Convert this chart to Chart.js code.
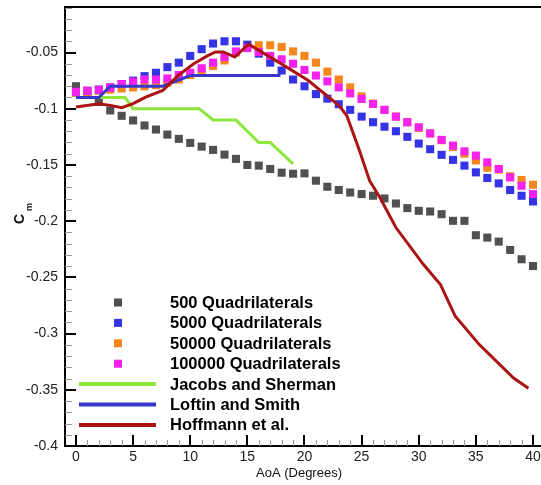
<!DOCTYPE html>
<html>
<head>
<meta charset="utf-8">
<script src="https://cdn.jsdelivr.net/npm/chart.js@4.4.1/dist/chart.umd.min.js"></script>
<style>
  html, body { margin: 0; padding: 0; background: #fff; }
</style>
</head>
<body>
<canvas id="cmChart" width="541" height="485"></canvas>
<script>
// Cm vs angle of attack - mesh study against experiments

const aoa = [0, 1, 2, 3, 4, 5, 6, 7, 8, 9, 10, 11, 12, 13, 14, 15, 16, 17, 18, 19, 20,
             21, 22, 23, 24, 25, 26, 27, 28, 29, 30, 31, 32, 33, 34, 35, 36, 37, 38, 39, 40];

const cm500 = [-0.080, -0.087, -0.094, -0.1015, -0.1063, -0.1104, -0.1149, -0.1185, -0.123, -0.1268,
               -0.1304, -0.1337, -0.1366, -0.1408, -0.1446, -0.150, -0.1506, -0.1536, -0.1569, -0.1578,
               -0.1575, -0.164, -0.1694, -0.1723, -0.1745, -0.1759, -0.1774, -0.1798, -0.1843, -0.1884,
               -0.1908, -0.1914, -0.1938, -0.1997, -0.1997, -0.2125, -0.2146, -0.2182, -0.2256, -0.2339, -0.2399];

const cm5000 = [-0.085, -0.084, -0.083, -0.081, -0.078, -0.075, -0.071, -0.068, -0.063, -0.059,
                -0.053, -0.047, -0.042, -0.040, -0.040, -0.043, -0.051, -0.059, -0.066, -0.074,
                -0.080, -0.087, -0.091, -0.096, -0.101, -0.107, -0.112, -0.116, -0.120, -0.125,
                -0.131, -0.136, -0.141, -0.1455, -0.1506, -0.1566, -0.1616, -0.1664, -0.1723, -0.1774, -0.1825];

const cm50000 = [-0.086, -0.085, -0.084, -0.083, -0.082, -0.081, -0.080, -0.079, -0.077, -0.074,
                 -0.070, -0.066, -0.062, -0.057, -0.050, -0.0435, -0.0435, -0.0435, -0.045, -0.049,
                 -0.053, -0.059, -0.067, -0.074, -0.081, -0.089, -0.0955, -0.101, -0.107, -0.112,
                 -0.117, -0.122, -0.128, -0.134, -0.140, -0.146, -0.1525, -0.154, -0.160, -0.1634, -0.1676];

const cm100000 = [-0.085, -0.084, -0.083, -0.081, -0.078, -0.076, -0.074, -0.074, -0.073, -0.070,
                  -0.068, -0.064, -0.059, -0.054, -0.049, -0.046, -0.0495, -0.053, -0.056, -0.060,
                  -0.0655, -0.0705, -0.0756, -0.081, -0.0863, -0.0913, -0.0957, -0.101, -0.107, -0.112,
                  -0.1165, -0.1219, -0.1277, -0.1328, -0.1379, -0.1417, -0.1477, -0.1536, -0.1611, -0.1685, -0.1759];

const jacobsAoa = [2, 4.3, 5, 10.8, 12, 14, 16, 17, 19];
const jacobsCm  = [-0.09, -0.09, -0.1, -0.1, -0.11, -0.11, -0.13, -0.13, -0.149];

const loftinAoa = [0, 2, 3, 7.6, 10, 17.9];
const loftinCm  = [-0.09, -0.09, -0.08, -0.08, -0.0705, -0.0705];

const hoffAoa = [0, 2, 3, 4, 5, 6.1, 7.6, 9, 10.3, 11.5, 12.2, 12.9, 13.9, 15.1, 17.8, 20.3, 23,
                 23.7, 24.8, 25.7, 26.6, 28, 30.4, 31.9, 32.3, 33.2, 35.3, 38.3, 39.6];
const hoffCm  = [-0.0985, -0.0955, -0.097, -0.099, -0.0955, -0.0896, -0.0837, -0.070, -0.060, -0.053,
                 -0.0495, -0.0495, -0.054, -0.0426, -0.059, -0.0747, -0.097,
                 -0.106, -0.137, -0.164, -0.179, -0.2057, -0.2384, -0.2563, -0.2652, -0.2846, -0.3098, -0.3396, -0.3486];

const xTicks = [0, 5, 10, 15, 20, 25, 30, 35, 40];
const yTicks = [-0.4, -0.35, -0.3, -0.25, -0.2, -0.15, -0.1, -0.05];
const yTickLabels = ['-0.4', '-0.35', '-0.3', '-0.25', '-0.2', '-0.15', '-0.1', '-0.05'];

const FONT = '"Liberation Sans", Arial, Helvetica, sans-serif';

function pairs(xs, ys) {
    return xs.map((x, i) => ({ x: x, y: ys[i] }));
}

function markerSet(label, ys, color, order) {
    return {
        label: label,
        data: pairs(aoa, ys),
        showLine: false,
        pointStyle: 'rect',
        pointRadius: 5.7,
        pointBorderWidth: 0,
        backgroundColor: color,
        borderColor: color,
        order: order
    };
}

function lineSet(label, xs, ys, color, order) {
    return {
        label: label,
        data: pairs(xs, ys),
        showLine: true,
        pointRadius: 0,
        borderWidth: 3,
        borderColor: color,
        backgroundColor: color,
        tension: 0,
        order: order
    };
}

// no extra padding for tick labels - plot box is fixed
function noPad(s) {
    s.paddingTop = 0;
    s.paddingBottom = 0;
    s.paddingLeft = 0;
    s.paddingRight = 0;
}

// axis frame, inward ticks, legend, titles
const decorations = {
    id: 'decorations',
    beforeDatasetsDraw(chart) {
        const { ctx, chartArea: a, scales: { x, y } } = chart;
        ctx.save();
        // minor ticks
        ctx.strokeStyle = '#9a9a9a';
        ctx.lineWidth = 1;
        ctx.beginPath();
        for (let v = 0; v <= 40; v++) {
            if (v % 5 === 0) continue;
            const px = Math.round(x.getPixelForValue(v)) + 0.5;
            ctx.moveTo(px, a.bottom);
            ctx.lineTo(px, a.bottom - 6);
        }
        for (let k = 40; k >= 1; k--) {
            if (k % 5 === 0) continue;
            const py = Math.round(y.getPixelForValue(-k / 100)) + 0.5;
            ctx.moveTo(a.left, py);
            ctx.lineTo(a.left + 7, py);
        }
        ctx.stroke();
        // major ticks
        ctx.strokeStyle = '#000';
        ctx.lineWidth = 2;
        ctx.beginPath();
        xTicks.forEach(v => {
            const px = Math.round(x.getPixelForValue(v));
            ctx.moveTo(px, a.bottom);
            ctx.lineTo(px, a.bottom - 11);
        });
        yTicks.forEach(v => {
            const py = Math.round(y.getPixelForValue(v));
            ctx.moveTo(a.left, py);
            ctx.lineTo(a.left + 11, py);
        });
        // top border
        ctx.moveTo(a.left - 1, a.top);
        ctx.lineTo(a.right, a.top);
        ctx.stroke();
        ctx.restore();
    },
    afterDraw(chart) {
        const { ctx } = chart;
        ctx.save();
        // legend
        const rowTop = 302.5, rowGap = 20.4;
        ctx.textBaseline = 'middle';
        ctx.textAlign = 'left';
        ctx.font = 'bold 16.5px ' + FONT;
        chart.data.datasets.forEach((ds, i) => {
            const yy = rowTop + i * rowGap;
            if (ds.showLine) {
                ctx.strokeStyle = ds.borderColor;
                ctx.lineWidth = 4;
                ctx.beginPath();
                ctx.moveTo(79, yy);
                ctx.lineTo(156, yy);
                ctx.stroke();
            } else {
                ctx.fillStyle = ds.backgroundColor;
                ctx.fillRect(114, yy - 4, 8, 8);
            }
            ctx.fillStyle = '#000';
            ctx.fillText(ds.label, 170, yy + 1);
        });
        // x title
        ctx.font = '13px ' + FONT;
        ctx.fillStyle = '#111';
        ctx.textAlign = 'center';
        ctx.fillText('AoA (Degrees)', 299, 473);
        // y title C_m
        ctx.translate(20, 219);
        ctx.rotate(-Math.PI / 2);
        ctx.font = 'bold 14px ' + FONT;
        ctx.fillText('C', 0, 0);
        ctx.font = 'bold 9px ' + FONT;
        ctx.fillText('m', 12, 10);
        ctx.restore();
    }
};

new Chart(document.getElementById('cmChart'), {
    type: 'scatter',
    data: {
        datasets: [
            markerSet('500 Quadrilaterals', cm500, '#505050', 6),
            markerSet('5000 Quadrilaterals', cm5000, '#3434e6', 4),
            markerSet('50000 Quadrilaterals', cm50000, '#f5861e', 5),
            markerSet('100000 Quadrilaterals', cm100000, '#f522ee', 3),
            lineSet('Jacobs and Sherman', jacobsAoa, jacobsCm, '#8ee63a', 2),
            lineSet('Loftin and Smith', loftinAoa, loftinCm, '#3838cc', 1),
            lineSet('Hoffmann et al.', hoffAoa, hoffCm, '#ac1313', 0)
        ]
    },
    options: {
        responsive: false,
        animation: false,
        events: [],
        layout: { autoPadding: false, padding: { top: 7, right: 0, bottom: 0, left: 0 } },
        plugins: {
            legend: { display: false },
            tooltip: { enabled: false }
        },
        scales: {
            x: {
                type: 'linear',
                min: -0.96,
                max: 40.7,
                grid: { display: false, drawTicks: false },
                border: { display: true, color: '#000', width: 2 },
                afterBuildTicks: s => { s.ticks = xTicks.map(v => ({ value: v })); },
                afterFit: s => { s.height = 39; noPad(s); },
                ticks: {
                    autoSkip: false,
                    maxRotation: 0,
                    padding: 3,
                    color: '#222',
                    font: { family: FONT, size: 14 },
                    callback: v => String(v)
                }
            },
            y: {
                type: 'linear',
                min: -0.4,
                max: -0.0095,
                grid: { display: false, drawTicks: false },
                border: { display: true, color: '#000', width: 2 },
                afterBuildTicks: s => { s.ticks = yTicks.map(v => ({ value: v })); },
                afterFit: s => { s.width = 65; noPad(s); },
                ticks: {
                    autoSkip: false,
                    padding: 7,
                    color: '#222',
                    font: { family: FONT, size: 14 },
                    callback: v => yTickLabels[yTicks.indexOf(v)]
                }
            }
        }
    },
    plugins: [decorations]
});
</script>
</body>
</html>
